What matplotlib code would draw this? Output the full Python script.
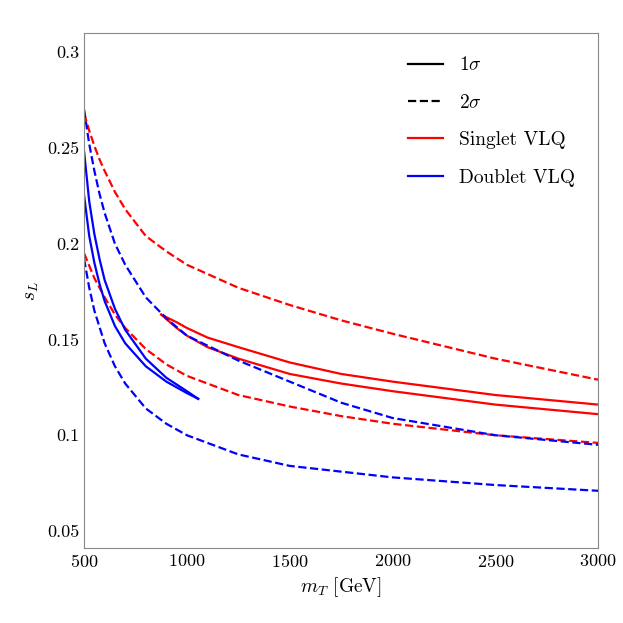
import matplotlib
matplotlib.use("Agg")
import matplotlib.pyplot as plt

plt.rcParams["font.family"] = "serif"
plt.rcParams["font.serif"] = ["cmr10", "DejaVu Serif"]
plt.rcParams["mathtext.fontset"] = "cm"
plt.rcParams["axes.formatter.use_mathtext"] = True

x_red_up = [500, 525, 550, 575, 600, 650, 700, 800, 900, 1000, 1250, 1500, 1750, 2000, 2500, 3000]
y_red_up = [.268, .259, .251, .244, .238, .227, .218, .204, .196, .189, .177, .168, .160, .153, .140, .129]
x_red_lo = [500, 550, 600, 650, 700, 800, 900, 1000, 1250, 1500, 1750, 2000, 2500, 3000]
y_red_lo = [.195, .182, .172, .163, .156, .145, .137, .131, .121, .115, .110, .106, .100, .096]
x_red_s1 = [875, 950, 1000, 1100, 1250, 1500, 1750, 2000, 2500, 3000]
y_red_s1 = [.163, .159, .156, .151, .146, .138, .132, .128, .121, .116]
x_red_s2 = [875, 950, 1000, 1100, 1250, 1500, 1750, 2000, 2500, 3000]
y_red_s2 = [.163, .156, .152, .146, .140, .132, .127, .123, .116, .111]
x_blu_up = [500, 525, 550, 575, 600, 650, 700, 800, 900, 1000, 1250, 1500, 1750, 2000, 2500, 3000]
y_blu_up = [.270, .252, .238, .226, .216, .200, .189, .172, .161, .152, .139, .128, .117, .109, .100, .095]
x_blu_lo = [500, 525, 550, 600, 650, 700, 800, 900, 1000, 1250, 1500, 1750, 2000, 2500, 3000]
y_blu_lo = [.192, .177, .165, .148, .136, .127, .114, .106, .100, .090, .084, .081, .078, .074, .071]
x_blu_s1 = [500, 525, 550, 575, 600, 650, 700, 800, 900, 1000, 1055]
y_blu_s1 = [.248, .222, .205, .192, .181, .166, .155, .140, .130, .123, .119]
x_blu_s2 = [500, 525, 550, 575, 600, 650, 700, 800, 900, 1000, 1055]
y_blu_s2 = [.225, .204, .190, .179, .170, .157, .148, .136, .128, .122, .119]

fig = plt.figure(figsize=(6.23, 6.23), dpi=100)
ax = fig.add_axes([0.135, 0.12, 0.825, 0.827])
lw = 1.6
ax.plot(x_red_up, y_red_up, "r--", lw=lw)
ax.plot(x_red_lo, y_red_lo, "r--", lw=lw)
ax.plot(x_red_s1, y_red_s1, "r-", lw=lw)
ax.plot(x_red_s2, y_red_s2, "r-", lw=lw)
ax.plot(x_blu_up, y_blu_up, "b--", lw=lw)
ax.plot(x_blu_lo, y_blu_lo, "b--", lw=lw)
ax.plot(x_blu_s1, y_blu_s1, "b-", lw=lw)
ax.plot(x_blu_s2, y_blu_s2, "b-", lw=lw)

h = [plt.Line2D([], [], color="k", ls="-", lw=lw),
     plt.Line2D([], [], color="k", ls="--", lw=lw),
     plt.Line2D([], [], color="r", ls="-", lw=lw),
     plt.Line2D([], [], color="b", ls="-", lw=lw)]
leg = ax.legend(h, [r"$1\sigma$", r"$2\sigma$", "Singlet VLQ", "Doublet VLQ"],
                loc="upper right", frameon=False, fontsize=14, labelspacing=1.0,
                handlelength=1.8, borderaxespad=0.8, markerfirst=True)
for t in leg.get_texts():
    t.set_ha("right")
ax.set_xlim(500, 3000)
ax.set_ylim(0.041, 0.31)
ax.set_xticks([500, 1000, 1500, 2000, 2500, 3000])
ax.set_yticks([0.05, 0.1, 0.15, 0.2, 0.25, 0.3])
ax.set_yticklabels(["0.05", "0.1", "0.15", "0.2", "0.25", "0.3"])
ax.tick_params(labelsize=13, direction="in", length=0)
for s in ax.spines.values():
    s.set_color("#888888")
ax.set_xlabel(r"$m_T$ [GeV]", fontsize=14)
ax.set_ylabel(r"$s_L$", fontsize=14)
fig.savefig("out.png", dpi=100)
